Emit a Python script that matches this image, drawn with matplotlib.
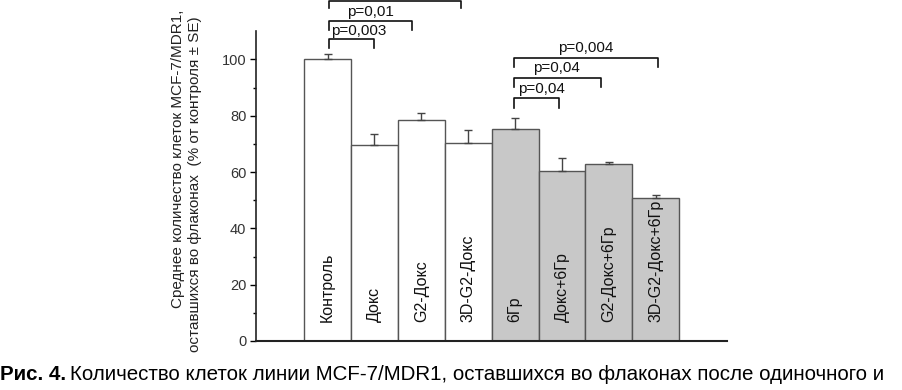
import matplotlib
matplotlib.use('Agg')
import matplotlib.pyplot as plt
import numpy as np

plt.rcParams['font.family'] = ['Liberation Sans', 'DejaVu Sans']

# data
groups = ['Контроль', 'Докс', 'G2-Докс', '3D-G2-Докс',
          '6Гр', 'Докс+6Гр', 'G2-Докс+6Гр', '3D-G2-Докс+6Гр']
means = [100.0, 69.5, 78.5, 70.2, 75.4, 60.3, 62.8, 50.9]
errs = [2.0, 4.1, 2.5, 4.9, 3.9, 4.8, 0.8, 0.8]
irradiated = [False, False, False, False, True, True, True, True]

# significance brackets: (x left, x right, y line, y tick bottom, label, x text, y text)
brackets = [
    (1.03, 1.99, 107.2, 104.1, 'p=0,003', 1.67, 110.1),
    (1.03, 2.80, 113.7, 110.5, 'p=0,01', 1.91, 116.8),
    (1.03, 3.85, 120.8, 118.2, None, None, None),
    (4.98, 5.94, 86.2, 82.9, 'p=0,04', 5.57, 89.5),
    (4.98, 6.83, 93.3, 90.1, 'p=0,04', 5.89, 97.0),
    (4.98, 8.04, 100.5, 97.4, 'p=0,004', 6.50, 104.2),
]

ylabel_1 = 'Среднее количество клеток MCF-7/MDR1,'
ylabel_2 = 'оставшихся во флаконах  (% от контроля ± SE)'
caption_bold = 'Рис. 4.'
caption_rest = 'Количество клеток линии MCF-7/MDR1, оставшихся во флаконах после одиночного и'

fig = plt.figure(figsize=(9.03, 3.90), dpi=100)
ax = fig.add_axes([256 / 903, 49 / 390, (727 - 256) / 903, 341 / 390])

x = np.arange(1, len(groups) + 1)
colors = ['#c8c8c8' if g else 'white' for g in irradiated]
ax.bar(x, means, width=1.0, color=colors, edgecolor='#555555', linewidth=1.0, zorder=2)
ax.errorbar(x, means, yerr=[np.zeros(len(errs)), errs], fmt='none',
            ecolor='#444444', elinewidth=1.0, capsize=3, capthick=1.0, zorder=3)

for xi, name in zip(x, groups):
    ax.text(xi, 6.7, name, rotation=90, ha='center', va='bottom',
            fontsize=11.5, color='#111111', zorder=4)

for xl, xr, yl, yb, lab, xt, yt in brackets:
    ax.plot([xl, xl, xr, xr], [yb, yl, yl, yb], color='#111111', lw=1.2,
            clip_on=False, zorder=4)
    if lab:
        ax.text(xt, yt, lab, ha='center', va='center', fontsize=11, color='#111111')

ax.set_xlim(-0.525, 9.52)
ax.set_ylim(0, 121.1)
ax.set_yticks(np.arange(0, 101, 20))
ax.set_yticks(np.arange(10, 100, 20), minor=True)
ax.set_xticks([])
ax.tick_params(axis='y', which='major', direction='out', length=4, width=1,
               labelsize=10.5, labelcolor='#333333', pad=3)
ax.tick_params(axis='y', which='minor', direction='out', length=2.5, width=1)
ax.spines['top'].set_visible(False)
ax.spines['right'].set_visible(False)
ax.spines['left'].set_bounds(0, 110)
ax.spines['left'].set_color('#222222')
ax.spines['bottom'].set_color('#222222')
ax.spines['left'].set_linewidth(1.2)
ax.spines['bottom'].set_linewidth(1.5)

fig.text(178.5 / 903, 1 - 159 / 390, ylabel_1, rotation=90, ha='center', va='center',
         fontsize=11, color='#222222')
fig.text(195 / 903, 1 - 184 / 390, ylabel_2, rotation=90, ha='center', va='center',
         fontsize=11, color='#222222')

t1 = fig.text(0.0, 10 / 390, caption_bold, fontsize=14.8, fontweight='bold',
              ha='left', va='baseline', color='black')
fig.canvas.draw()
bb = t1.get_window_extent()
fig.text(bb.x1 / 903 + 4 / 903, 10 / 390, caption_rest, fontsize=14.8,
         ha='left', va='baseline', color='black')

fig.savefig('out.png', dpi=100)
